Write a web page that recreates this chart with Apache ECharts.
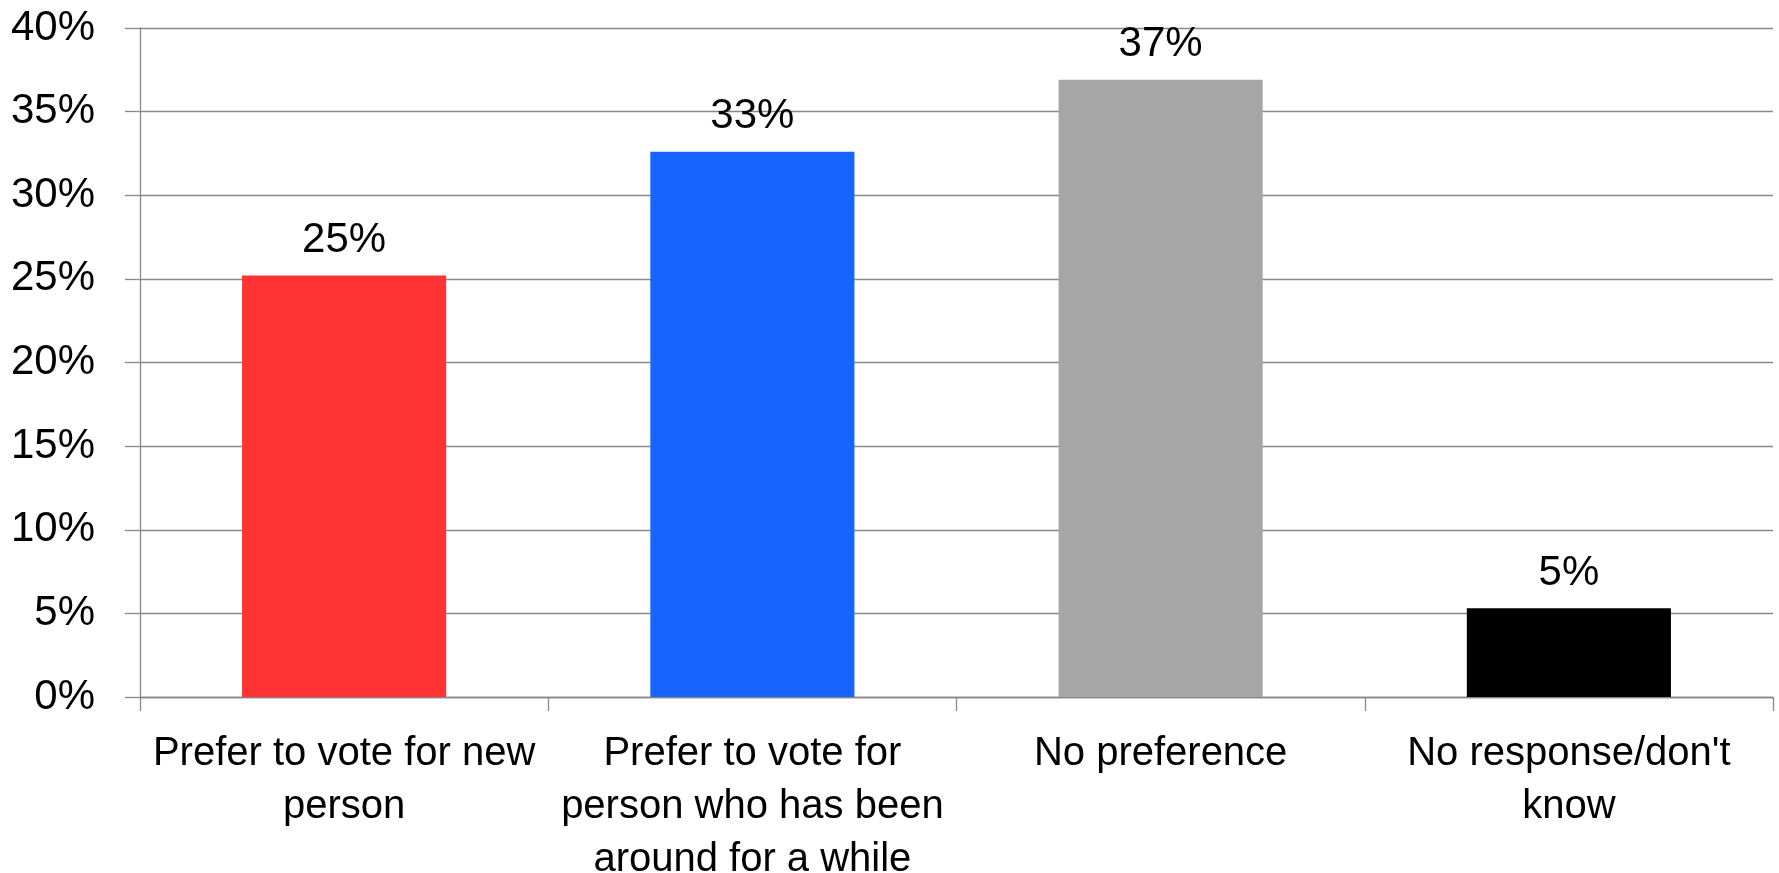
<!DOCTYPE html>
<html>
<head>
<meta charset="utf-8">
<script src="https://cdn.jsdelivr.net/npm/echarts@6/dist/echarts.min.js"></script>
<style>
html,body{margin:0;padding:0;background:#fff;}
#chart{width:1779px;height:873px;}
</style>
</head>
<body>
<div id="chart"></div>
<script>
const categories = [
  "Prefer to vote for new\nperson",
  "Prefer to vote for\nperson who has been\naround for a while",
  "No preference",
  "No response/don't\nknow"
];
const values = [25.2, 32.6, 36.9, 5.3];
const barColors = ["#FF3333", "#1764FF", "#A6A6A6", "#000000"];
const yTicks = { min: 0, max: 40, interval: 5 };

const FONT = "Liberation Sans";
const chart = echarts.init(document.getElementById('chart'), null, {renderer: 'canvas'});
chart.setOption({
  animation: false,
  backgroundColor: '#ffffff',
  grid: { left: 140, right: 6, top: 28, bottom: 176, containLabel: false, outerBoundsMode: 'none' },
  xAxis: {
    type: 'category',
    data: categories,
    axisLine: { show: true, lineStyle: { color: '#888888', width: 1.3 } },
    axisTick: { show: true, inside: false, length: 14, lineStyle: { color: '#888888', width: 1.3 } },
    axisLabel: {
      interval: 0,
      margin: 30,
      color: '#000',
      fontFamily: FONT,
      fontSize: 40,
      lineHeight: 53,
      align: 'center'
    },
    splitLine: { show: false }
  },
  yAxis: {
    type: 'value',
    min: yTicks.min,
    max: yTicks.max,
    interval: yTicks.interval,
    axisLine: { show: true, lineStyle: { color: '#888888', width: 1.3 } },
    axisTick: { show: true, inside: false, length: 15, lineStyle: { color: '#888888', width: 1.3 } },
    axisLabel: {
      formatter: '{value}%',
      margin: 45,
      color: '#000',
      fontFamily: FONT,
      fontSize: 42
    },
    splitLine: { show: true, lineStyle: { color: '#888888', width: 1.3 } }
  },
  series: [{
    type: 'bar',
    data: values.map((v, i) => ({ value: v, itemStyle: { color: barColors[i] } })),
    barWidth: '50%',
    label: {
      show: true,
      position: 'top',
      distance: 14,
      formatter: p => Math.round(p.value) + '%',
      color: '#000',
      fontFamily: FONT,
      fontSize: 42
    }
  }]
});
</script>
</body>
</html>
